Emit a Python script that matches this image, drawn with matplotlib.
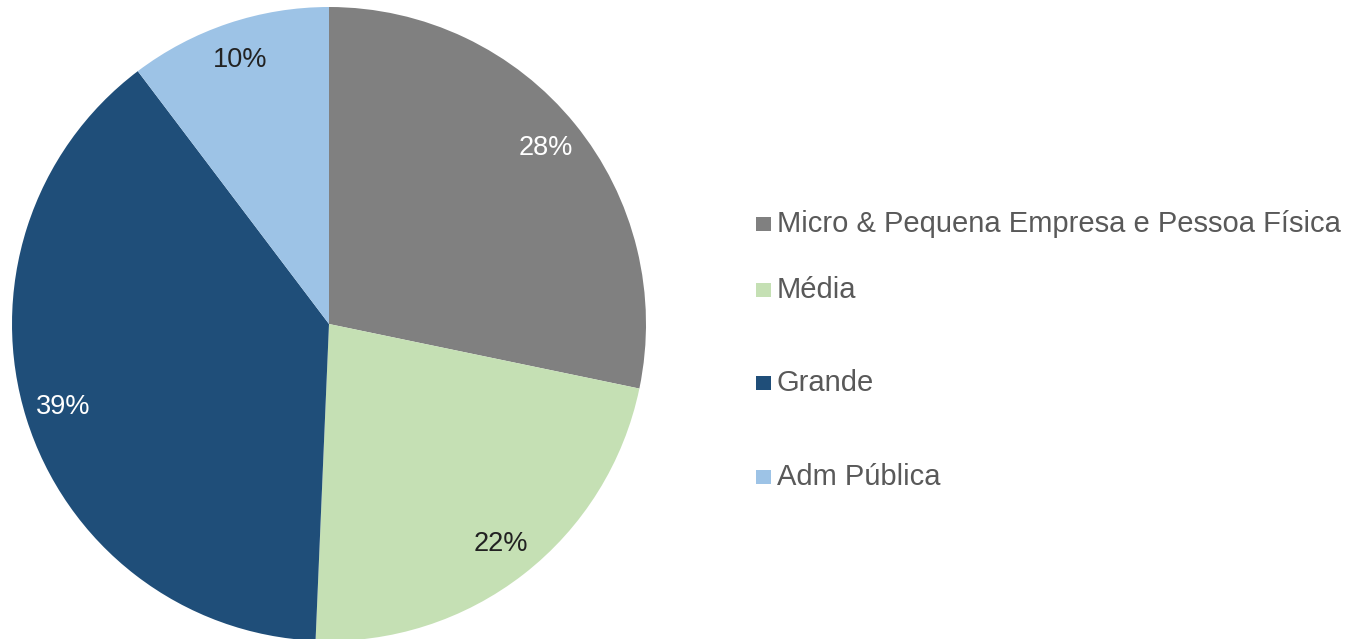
import matplotlib.pyplot as plt
from matplotlib.patches import Rectangle

plt.rcParams['font.family'] = ['Liberation Sans', 'DejaVu Sans']

# dados
categorias = ['Micro & Pequena Empresa e Pessoa Física', 'Média', 'Grande', 'Adm Pública']
valores = [28.25, 22.4, 39.0, 10.3]
cores = ['#808080', '#c5e0b4', '#1f4e79', '#9dc3e6']
cor_pct = ['white', '#222222', 'white', '#222222']

W, H = 1349, 639
fig = plt.figure(figsize=(W / 100, H / 100), dpi=100)

# pizza: centro (329, 324), raio ~317 px
cx, cy, r = 329, 324, 317
ax = fig.add_axes([(cx - r) / W, (H - cy - r) / H, 2 * r / W, 2 * r / H])
wedges, textos, pcts = ax.pie(valores, colors=cores, startangle=90, counterclock=False,
                              autopct='%1.0f%%', pctdistance=0.88,
                              wedgeprops=dict(linewidth=0),
                              textprops=dict(fontsize=19.5))
for t, c in zip(pcts, cor_pct):
    t.set_color(c)
ax.set_xlim(-1, 1)
ax.set_ylim(-1, 1)
ax.set_aspect('equal')
ax.axis('off')

# legenda manual (espaçamento irregular como no original)
linhas_y = [224, 290, 383, 477]
for nome, cor, y in zip(categorias, cores, linhas_y):
    fig.patches.append(Rectangle((756 / W, (H - y - 7) / H), 15 / W, 14 / H,
                                 transform=fig.transFigure, facecolor=cor,
                                 edgecolor='none'))
    fig.text(777 / W, (H - y) / H, nome, fontsize=21, color='#595959',
             va='center', ha='left')

fig.savefig('out.png', dpi=100)
